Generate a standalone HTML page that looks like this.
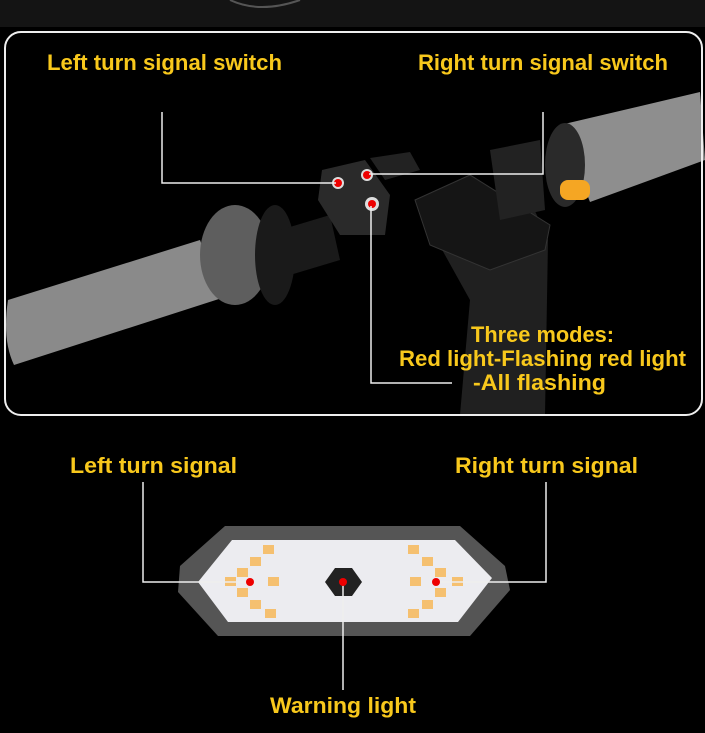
<!DOCTYPE html>
<html><head><style>
html,body{margin:0;padding:0;background:#000;}
svg{display:block}
text{font-family:"Liberation Sans",sans-serif;font-weight:bold;fill:#f8c81c}
</style></head><body>
<svg width="705" height="733" viewBox="0 0 705 733" xmlns="http://www.w3.org/2000/svg">
<rect width="705" height="733" fill="#000"/>
<rect x="0" y="0" width="705" height="27" fill="#141414"/>
<path d="M230 0 Q260 14 300 0" stroke="#555" stroke-width="2" fill="none"/>
<!-- handlebar scene -->
<path d="M420 210 L530 200 L548 240 L545 415 L460 415 L470 300 Z" fill="#202020"/>
<path d="M415 200 L470 175 L550 225 L545 250 L490 270 L430 245 Z" fill="#151515" stroke="#333"/>
<path d="M560 125 L700 92 L705 160 L590 202 Z" fill="#8e8e8e"/>
<ellipse cx="565" cy="165" rx="20" ry="42" fill="#2a2a2a"/>
<rect x="560" y="180" width="30" height="20" rx="8" fill="#f5a623"/>
<path d="M490 150 L540 140 L545 210 L500 220 Z" fill="#222"/>
<path d="M8 300 L200 240 L222 298 L14 365 Q2 340 8 300 Z" fill="#8a8a8a"/>
<ellipse cx="235" cy="255" rx="35" ry="50" fill="#5e5e5e"/>
<ellipse cx="275" cy="255" rx="20" ry="50" fill="#1a1a1a"/>
<path d="M280 230 L330 215 L340 260 L290 275 Z" fill="#1a1a1a"/>
<path d="M322 170 L365 160 L390 195 L385 235 L340 235 L318 200 Z" fill="#2a2a2a"/>
<path d="M370 158 L410 152 L420 170 L385 180 Z" fill="#222"/>
<circle cx="338" cy="183" r="6" fill="#ddd"/><circle cx="338" cy="183" r="4" fill="#e00"/>
<circle cx="367" cy="175" r="6" fill="#ddd"/><circle cx="367" cy="175" r="4" fill="#e00"/>
<circle cx="372" cy="204" r="7" fill="#ddd"/><circle cx="372" cy="204" r="4" fill="#e00"/>
<!-- panel border -->
<rect x="5" y="32" width="697" height="383" rx="16" fill="none" stroke="#eee" stroke-width="2"/>
<!-- connector lines -->
<polyline points="162,112 162,183 336,183" fill="none" stroke="#eee" stroke-width="1.5"/>
<polyline points="543,112 543,174 369,174" fill="none" stroke="#eee" stroke-width="1.5"/>
<polyline points="371,206 371,383 452,383" fill="none" stroke="#eee" stroke-width="1.5"/>
<text x="47" y="70" font-size="22" textLength="235" lengthAdjust="spacingAndGlyphs">Left turn signal switch</text>
<text x="418" y="70" font-size="22" textLength="250" lengthAdjust="spacingAndGlyphs">Right turn signal switch</text>
<text x="471" y="342" font-size="22" textLength="143" lengthAdjust="spacingAndGlyphs">Three modes:</text>
<text x="399" y="366" font-size="22" textLength="287" lengthAdjust="spacingAndGlyphs">Red light-Flashing red light</text>
<text x="473" y="390" font-size="22" textLength="133" lengthAdjust="spacingAndGlyphs">-All flashing</text>
<!-- lamp -->
<polygon points="225,526 460,526 505,566 510,590 470,636 218,636 178,592 180,566" fill="#555"/>
<polygon points="232,540 455,540 492,578 458,622 228,622 198,582" fill="#ececf0"/>
<polygon points="335,568 352,568 362,582 352,596 335,596 325,582" fill="#222"/>
<g fill="#f5c070">
<rect x="263" y="545" width="11" height="9"/><rect x="250" y="557" width="11" height="9"/><rect x="237" y="568" width="11" height="9"/><rect x="225" y="577" width="11" height="9"/><rect x="237" y="588" width="11" height="9"/><rect x="250" y="600" width="11" height="9"/><rect x="265" y="609" width="11" height="9"/><rect x="268" y="577" width="11" height="9"/>
<rect x="408" y="545" width="11" height="9"/><rect x="422" y="557" width="11" height="9"/><rect x="435" y="568" width="11" height="9"/><rect x="452" y="577" width="11" height="9"/><rect x="435" y="588" width="11" height="9"/><rect x="422" y="600" width="11" height="9"/><rect x="408" y="609" width="11" height="9"/><rect x="410" y="577" width="11" height="9"/>
</g>
<polyline points="143,482 143,582 248,582" fill="none" stroke="#eee" stroke-width="1.5"/>
<polyline points="546,482 546,582 438,582" fill="none" stroke="#eee" stroke-width="1.5"/>
<line x1="343" y1="582" x2="343" y2="690" stroke="#eee" stroke-width="1.5"/>
<circle cx="250" cy="582" r="4" fill="#e00"/><circle cx="436" cy="582" r="4" fill="#e00"/><circle cx="343" cy="582" r="4" fill="#e00"/>
<text x="70" y="473" font-size="22" textLength="167" lengthAdjust="spacingAndGlyphs">Left turn signal</text>
<text x="455" y="473" font-size="22" textLength="183" lengthAdjust="spacingAndGlyphs">Right turn signal</text>
<text x="270" y="713" font-size="22" textLength="146" lengthAdjust="spacingAndGlyphs">Warning light</text>
</svg>
</body></html>
